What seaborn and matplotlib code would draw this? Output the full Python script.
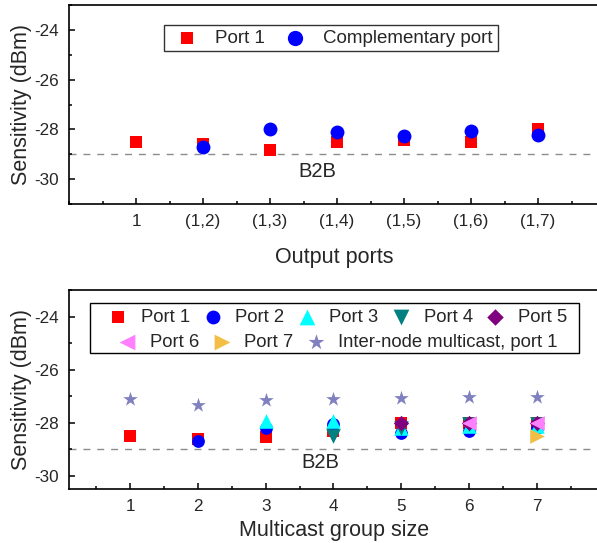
import numpy as np
import pandas as pd
import matplotlib
matplotlib.use("Agg")
import matplotlib.pyplot as plt
from matplotlib.patches import Rectangle
from matplotlib.ticker import MultipleLocator
import seaborn as sns

# ---------------- data ----------------
top_positions = [1, 2, 3, 4, 5, 6, 7]
top_ticklabels = ["1", "(1,2)", "(1,3)", "(1,4)", "(1,5)", "(1,6)", "(1,7)"]
top_port1 = [-28.52, -28.60, -28.83, -28.52, -28.43, -28.52, -27.97]
top_comp_x = [2, 3, 4, 5, 6, 7]
top_comp = [-28.69, -28.00, -28.09, -28.27, -28.08, -28.23]

group_sizes = [1, 2, 3, 4, 5, 6, 7]
port1_x = [1, 2, 3, 4, 5, 6, 7]
port1 = [-28.51, -28.60, -28.55, -28.30, -28.00, -28.00, -28.00]
port2_x = [2, 3, 4, 5, 6, 7]
port2 = [-28.69, -28.21, -28.05, -28.40, -28.30, -28.20]
port3_x = [3, 4, 5, 6, 7]
port3 = [-27.94, -27.94, -28.20, -28.10, -28.10]
port4_x = [4, 5, 6, 7]
port4 = [-28.50, -28.20, -28.05, -28.05]
port5_x = [5, 6, 7]
port5 = [-28.00, -28.00, -28.00]
port6_x = [6, 7]
port6 = [-28.00, -28.00]
port7_x = [7]
port7 = [-28.49]
inter_x = [1, 2, 3, 4, 5, 6, 7]
inter = [-27.12, -27.31, -27.15, -27.10, -27.06, -27.03, -27.03]
b2b_level = -29.0

# ---------------- style ----------------
sns.set_style("ticks")
plt.rcParams["font.family"] = ["Liberation Sans", "DejaVu Sans"]
plt.rcParams["axes.linewidth"] = 1.2
plt.rcParams["axes.unicode_minus"] = False

W, H = 597, 543
fig = plt.figure(figsize=(W / 100, H / 100), dpi=100)

def frac_axes(left, top, right, bottom):
    return fig.add_axes([left / W, 1 - bottom / H, (right - left) / W, (bottom - top) / H])

ax1 = frac_axes(69, 5, 600, 204)
ax2 = frac_axes(69, 290, 600, 489.3)

def style_axis(ax):
    ax.tick_params(which="both", direction="in", top=False, right=False,
                   labelsize=12.3, pad=7, width=1.1, color="black")
    ax.tick_params(which="major", length=4.5)
    ax.tick_params(which="minor", length=2.5)
    ax.yaxis.set_major_locator(MultipleLocator(2))
    ax.yaxis.set_minor_locator(MultipleLocator(1))
    ax.xaxis.set_minor_locator(MultipleLocator(0.5))
    for s in ax.spines.values():
        s.set_color("black")
        s.set_linewidth(1.2)
    ax.axhline(b2b_level, color="#8c8c8c", lw=1.0, ls=(0, (5, 5)), zorder=0)

# ---------- top panel ----------
sns.scatterplot(x=top_positions, y=top_port1, ax=ax1, marker="s", s=8.5 ** 2,
                color="#ff0000", linewidth=0, label="Port 1", zorder=3)
sns.scatterplot(x=top_comp_x, y=top_comp, ax=ax1, marker="o", s=10.0 ** 2,
                color="#0000ff", linewidth=0, label="Complementary port", zorder=3)
style_axis(ax1)
ax1.set_xlim(0, 7.925)
ax1.set_ylim(-31, -23)
ax1.set_xticks(top_positions)
ax1.set_xticklabels(top_ticklabels)
ax1.set_xlabel("Output ports", fontsize=15.5, labelpad=13)
ax1.set_ylabel("Sensitivity (dBm)", fontsize=15.5, labelpad=2)
ax1.text(3.71, -29.68, "B2B", fontsize=14.5, ha="center", va="center")
h, l = ax1.get_legend_handles_labels()
leg = ax1.legend(h, l, ncol=2, loc="center", bbox_to_anchor=(0.493, 0.833),
                 fontsize=13.5, frameon=True, fancybox=False, edgecolor="black",
                 handlelength=2.0, handletextpad=0.5, columnspacing=0.6,
                 borderpad=0.25, borderaxespad=0, markerscale=1.1)
leg.get_frame().set_linewidth(1.0)

# ---------- bottom panel ----------
series = [
    (port1_x, port1, "s", 8.2, "#ff0000", "Port 1"),
    (port2_x, port2, "o", 9.2, "#0000ff", "Port 2"),
    (port3_x, port3, "^", 10.5, "#00ffff", "Port 3"),
    (port4_x, port4, "v", 10.5, "#008080", "Port 4"),
    (port5_x, port5, "D", 7.8, "#800080", "Port 5"),
    (port6_x, port6, "<", 10.5, "#ff80ff", "Port 6"),
    (port7_x, port7, ">", 10.5, "#f2be46", "Port 7"),
    (inter_x, inter, "*", 11.0, "#8080c0", "Inter-node multicast, port 1"),
]
for xs, ys, mk, ms, col, lab in series:
    sns.scatterplot(x=xs, y=ys, ax=ax2, marker=mk, s=ms ** 2, color=col,
                    linewidth=0, label=lab, zorder=3)
style_axis(ax2)
ax2.set_xlim(0.1, 7.93)
ax2.set_ylim(-30.5, -23)
ax2.set_xticks(group_sizes)
ax2.set_xticklabels([str(g) for g in group_sizes])
ax2.set_xlabel("Multicast group size", fontsize=15.5, labelpad=4)
ax2.set_ylabel("Sensitivity (dBm)", fontsize=15.5, labelpad=2)
ax2.text(3.8, -29.48, "B2B", fontsize=14.5, ha="center", va="center")

h, l = ax2.get_legend_handles_labels()
common = dict(fontsize=13.3, frameon=False, handlelength=1.2, handletextpad=0.62,
              columnspacing=0.62, borderpad=0, borderaxespad=0, loc="center",
              markerscale=1.08)
leg1 = ax2.legend(h[:5], l[:5], ncol=5, bbox_to_anchor=(0.505, 0.863), **common)
ax2.add_artist(leg1)
leg2 = ax2.legend(h[5:], l[5:], ncol=3, bbox_to_anchor=(0.505, 0.739), **common)
ax2.add_patch(Rectangle((0.0395, 0.684), 0.9205, 0.251, transform=ax2.transAxes,
                        fill=False, edgecolor="black", lw=1.0, clip_on=False, zorder=5))

fig.savefig("out.png", dpi=100)
